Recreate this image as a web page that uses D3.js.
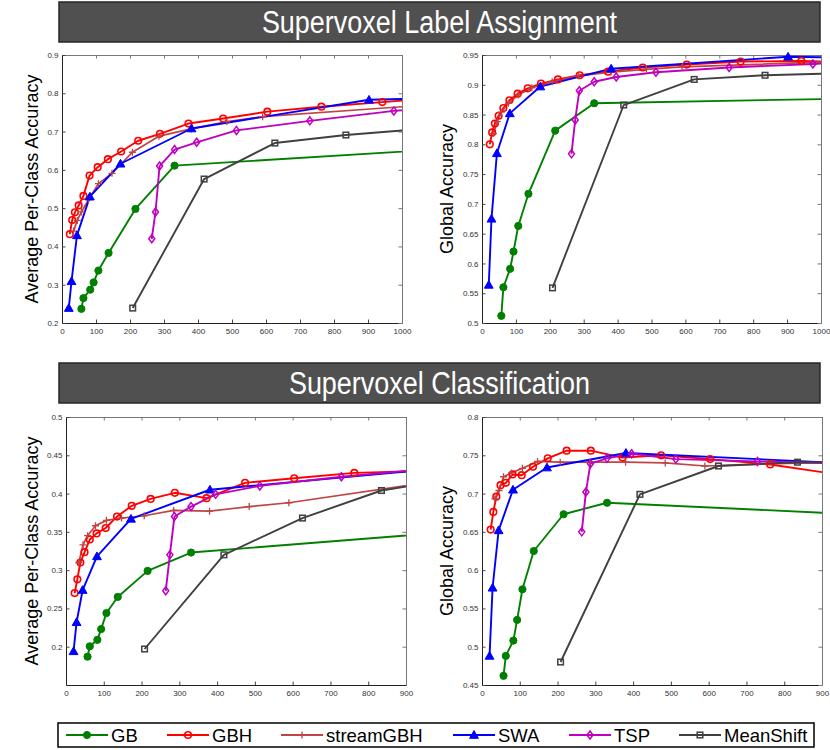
<!DOCTYPE html>
<html><head><meta charset="utf-8">
<script src="https://cdn.jsdelivr.net/npm/d3@7"></script>
<style>
html,body{margin:0;padding:0;background:#fff;}
svg text{font-family:"Liberation Sans",Arial,Helvetica,sans-serif;}
</style></head>
<body><svg id="c" width="830" height="750"></svg>
<script>
// ---- data ----
const methods = ["GB", "GBH", "streamGBH", "SWA", "TSP", "MeanShift"];
const colors = ["#008000", "#ff0000", "#c04444", "#0000ff", "#bf00bf", "#404040"];
const markers = ["dot", "circle", "plus", "triangle", "diamond", "square"];
const bannerTitles = ["Supervoxel Label Assignment", "Supervoxel Classification"];
const yTitles = ["Average Per-Class Accuracy", "Global Accuracy", "Average Per-Class Accuracy", "Global Accuracy"];

// number of supervoxels (x) per method
const gbX = [57, 63, 83, 93, 107, 137, 216, 331, 1100];
const gbhX = [23, 30, 38, 49, 63, 81, 105, 135, 174, 224, 288, 372, 474, 604, 763, 942, 1150];
const streamX = [34, 45, 57, 78, 107, 147, 207, 285, 380, 485, 590, 1050];
const swaX = [20, 28, 44, 82, 172, 381, 903, 1150];
const tspX = [264, 275, 287, 331, 396, 513, 729, 976, 1150];
const msX = [208, 418, 626, 835, 1042];

// Label assignment, average per-class accuracy
const la_pc_GB = [0.237, 0.265, 0.287, 0.306, 0.337, 0.383, 0.498, 0.611, 0.653];
const la_pc_GBH = [0.432, 0.469, 0.489, 0.507, 0.532, 0.585, 0.607, 0.628, 0.648, 0.676, 0.694, 0.721, 0.734, 0.752, 0.765, 0.777, 0.791];
const la_pc_stream = [0.440, 0.468, 0.490, 0.522, 0.564, 0.591, 0.646, 0.688, 0.707, 0.726, 0.739, 0.768];
const la_pc_SWA = [0.239, 0.309, 0.429, 0.530, 0.616, 0.708, 0.783, 0.788];
const la_pc_TSP = [0.420, 0.490, 0.610, 0.653, 0.672, 0.703, 0.728, 0.754, 0.765];
const la_pc_MS = [0.239, 0.576, 0.670, 0.691, 0.706];

// Label assignment, global accuracy
const la_g_GB = [0.512, 0.560, 0.591, 0.620, 0.663, 0.717, 0.823, 0.869, 0.877];
const la_g_GBH = [0.800, 0.820, 0.835, 0.848, 0.861, 0.874, 0.885, 0.894, 0.902, 0.909, 0.916, 0.922, 0.929, 0.934, 0.939, 0.940, 0.937];
const la_g_stream = [0.818, 0.838, 0.854, 0.869, 0.883, 0.895, 0.905, 0.915, 0.921, 0.926, 0.930, 0.939];
const la_g_SWA = [0.564, 0.675, 0.785, 0.852, 0.897, 0.927, 0.947, 0.945];
const la_g_TSP = [0.784, 0.841, 0.890, 0.905, 0.913, 0.921, 0.929, 0.935, 0.940];
const la_g_MS = [0.559, 0.866, 0.909, 0.916, 0.919];

// Classification, average per-class accuracy
const cl_pc_GB = [0.187, 0.2005, 0.209, 0.223, 0.244, 0.265, 0.299, 0.323, 0.353];
const cl_pc_GBH = [0.270, 0.288, 0.310, 0.3235, 0.340, 0.348, 0.355, 0.370, 0.384, 0.393, 0.401, 0.394, 0.414, 0.420, 0.427, 0.4295, 0.431];
const cl_pc_stream = [0.310, 0.333, 0.345, 0.358, 0.365, 0.368, 0.371, 0.378, 0.377, 0.383, 0.388, 0.421];
const cl_pc_SWA = [0.194, 0.232, 0.274, 0.318, 0.367, 0.405, 0.429, 0.432];
const cl_pc_TSP = [0.273, 0.320, 0.370, 0.383, 0.399, 0.410, 0.422, 0.433, 0.437];
const cl_pc_MS = [0.197, 0.320, 0.368, 0.404, 0.420];

// Classification, global accuracy
const cl_g_GB = [0.462, 0.488, 0.508, 0.535, 0.575, 0.625, 0.673, 0.688, 0.6705];
const cl_g_GBH = [0.653, 0.676, 0.696, 0.711, 0.714, 0.725, 0.724, 0.735, 0.746, 0.756, 0.756, 0.747, 0.750, 0.745, 0.738, 0.725, 0.715];
const cl_g_stream = [0.693, 0.704, 0.722, 0.727, 0.733, 0.742, 0.741, 0.741, 0.741, 0.740, 0.736, 0.743];
const cl_g_SWA = [0.488, 0.577, 0.652, 0.705, 0.734, 0.753, 0.741, 0.739];
const cl_g_TSP = [0.650, 0.702, 0.739, 0.746, 0.752, 0.745, 0.742, 0.739, 0.738];
const cl_g_MS = [0.480, 0.699, 0.736, 0.741, 0.741];

// tick values
const xTicksTop = [0, 100, 200, 300, 400, 500, 600, 700, 800, 900, 1000];
const xTicksBottom = [0, 100, 200, 300, 400, 500, 600, 700, 800, 900];
const yTicksTL = [0.2, 0.3, 0.4, 0.5, 0.6, 0.7, 0.8, 0.9];
const yTicksTR = [0.5, 0.55, 0.6, 0.65, 0.7, 0.75, 0.8, 0.85, 0.9, 0.95];
const yTicksBL = [0.2, 0.25, 0.3, 0.35, 0.4, 0.45, 0.5];
const yTicksBR = [0.45, 0.5, 0.55, 0.6, 0.65, 0.7, 0.75, 0.8];

const xs = [gbX, gbhX, streamX, swaX, tspX, msX];
const panels = [
  {box:[62, 55, 402, 323], tx:38, xd:[0,1000], yd:[0.2,0.9], xt:xTicksTop, yt:yTicksTL, title:yTitles[0],
   ys:[la_pc_GB, la_pc_GBH, la_pc_stream, la_pc_SWA, la_pc_TSP, la_pc_MS]},
  {box:[482, 55, 821, 323], tx:453, xd:[0,1000], yd:[0.5,0.95], xt:xTicksTop, yt:yTicksTR, title:yTitles[1],
   ys:[la_g_GB, la_g_GBH, la_g_stream, la_g_SWA, la_g_TSP, la_g_MS]},
  {box:[66, 417, 406, 685], tx:38, xd:[0,900], yd:[0.15,0.5], xt:xTicksBottom, yt:yTicksBL, title:yTitles[2],
   ys:[cl_pc_GB, cl_pc_GBH, cl_pc_stream, cl_pc_SWA, cl_pc_TSP, cl_pc_MS]},
  {box:[482, 417, 822, 685], tx:453, xd:[0,900], yd:[0.45,0.8], xt:xTicksBottom, yt:yTicksBR, title:yTitles[3],
   ys:[cl_g_GB, cl_g_GBH, cl_g_stream, cl_g_SWA, cl_g_TSP, cl_g_MS]}
];

const svg = d3.select("#c");

// banners
const banners = [[59, 2, 820, 42], [59, 363, 820, 403]];
banners.forEach((b, i) => {
  svg.append("rect").attr("x", b[0]).attr("y", b[1]).attr("width", b[2]-b[0]).attr("height", b[3]-b[1])
    .attr("fill", "#505050").attr("stroke", "#262626").attr("stroke-width", 1.5);
  svg.append("text").attr("transform", `translate(${(b[0]+b[2])/2},${b[1]+31}) scale(0.87,1)`)
    .attr("text-anchor", "middle").attr("fill", "#fff").attr("font-size", 31).text(bannerTitles[i]);
});

function drawMarker(g, type, color, cx, cy) {
  const r = 3.3;
  if (type === "dot") {
    g.append("circle").attr("cx", cx).attr("cy", cy).attr("r", 3.6).attr("fill", color).attr("stroke", color);
  } else if (type === "circle") {
    g.append("circle").attr("cx", cx).attr("cy", cy).attr("r", r).attr("fill", "none").attr("stroke", color).attr("stroke-width", 1.6);
  } else if (type === "plus") {
    g.append("path").attr("d", `M${cx-3.5},${cy}H${cx+3.5}M${cx},${cy-3.5}V${cy+3.5}`).attr("stroke", color).attr("stroke-width", 1.3).attr("fill", "none");
  } else if (type === "triangle") {
    const s = 4.4;
    g.append("path").attr("d", `M${cx},${cy-s}L${cx+s},${cy+s*0.75}L${cx-s},${cy+s*0.75}Z`).attr("fill", color).attr("stroke", color).attr("stroke-width", 1);
  } else if (type === "diamond") {
    const s = 4;
    g.append("path").attr("d", `M${cx},${cy-s}L${cx+s*0.75},${cy}L${cx},${cy+s}L${cx-s*0.75},${cy}Z`).attr("fill", "none").attr("stroke", color).attr("stroke-width", 1.5);
  } else if (type === "square") {
    const s = 2.8;
    g.append("rect").attr("x", cx-s).attr("y", cy-s).attr("width", 2*s).attr("height", 2*s).attr("fill", "none").attr("stroke", color).attr("stroke-width", 1.5);
  }
}

panels.forEach((p, pi) => {
  const [x0, y0, x1, y1] = p.box;
  const x = d3.scaleLinear().domain(p.xd).range([x0, x1]);
  const y = d3.scaleLinear().domain(p.yd).range([y1, y0]);
  const clipId = "clip" + pi;
  svg.append("clipPath").attr("id", clipId).append("rect")
    .attr("x", x0).attr("y", y0 - 5).attr("width", x1 - x0).attr("height", y1 - y0 + 5);

  // axes
  const tickFmt = d => d3.format("")(+d.toFixed(2));
  const gB = svg.append("g").attr("transform", `translate(0,${y1})`)
    .call(d3.axisBottom(x).tickValues(p.xt).tickSize(-3.5).tickSizeOuter(0).tickPadding(6).tickFormat(d3.format("d")));
  const gT = svg.append("g").attr("transform", `translate(0,${y0})`)
    .call(d3.axisTop(x).tickValues(p.xt).tickSize(-3.5).tickSizeOuter(0).tickFormat(""));
  const gL = svg.append("g").attr("transform", `translate(${x0},0)`)
    .call(d3.axisLeft(y).tickValues(p.yt).tickSize(-3.5).tickSizeOuter(0).tickPadding(3.5).tickFormat(tickFmt));
  const gR = svg.append("g").attr("transform", `translate(${x1},0)`)
    .call(d3.axisRight(y).tickValues(p.yt).tickSize(-3.5).tickSizeOuter(0).tickFormat(""));
  [gB, gL].forEach(g => {
    g.select(".domain").attr("stroke", "#222").attr("stroke-width", 1);
    g.selectAll(".tick line").attr("stroke", "#444");
    g.selectAll(".tick text").attr("font-size", 8).attr("fill", "#333");
  });
  [gT, gR].forEach(g => {
    g.select(".domain").attr("stroke", "#777").attr("stroke-width", 1);
    g.selectAll(".tick line").attr("stroke", "#777");
  });
  gB.selectAll(".tick text").attr("dy", "0.6em");

  // y title
  svg.append("text").attr("transform", `translate(${p.tx},${(y0 + y1) / 2}) rotate(-90)`)
    .attr("text-anchor", "middle").attr("font-size", 18).attr("fill", "#000").text(p.title);

  // series
  const plot = svg.append("g").attr("clip-path", `url(#${clipId})`);
  methods.forEach((m, mi) => {
    const pts = xs[mi].map((xv, k) => [xv, p.ys[mi][k]]);
    const line = d3.line().x(d => x(d[0])).y(d => y(d[1]));
    plot.append("path").attr("d", line(pts)).attr("fill", "none").attr("stroke", colors[mi])
      .attr("stroke-width", mi === 2 ? 1.7 : 1.9).attr("stroke-linejoin", "round");
  });
  methods.forEach((m, mi) => {
    const mg = plot.append("g");
    xs[mi].forEach((xv, k) => {
      if (xv <= p.xd[1]) drawMarker(mg, markers[mi], colors[mi], x(xv), y(p.ys[mi][k]));
    });
  });
});

// legend
const lg = svg.append("g");
lg.append("rect").attr("x", 58).attr("y", 723).attr("width", 756).attr("height", 24)
  .attr("fill", "#fff").attr("stroke", "#000").attr("stroke-width", 1.5);
const legendStarts = [66, 167, 281, 453, 569, 679];
methods.forEach((m, mi) => {
  const lx = legendStarts[mi];
  const ly = 735;
  lg.append("line").attr("x1", lx).attr("x2", lx + 42).attr("y1", ly).attr("y2", ly)
    .attr("stroke", colors[mi]).attr("stroke-width", 2.2);
  drawMarker(lg, markers[mi], colors[mi], lx + 21, ly);
  lg.append("text").attr("x", lx + 45).attr("y", ly + 6.5).attr("font-size", 18.5).attr("fill", "#000").text(m);
});
</script></body></html>
